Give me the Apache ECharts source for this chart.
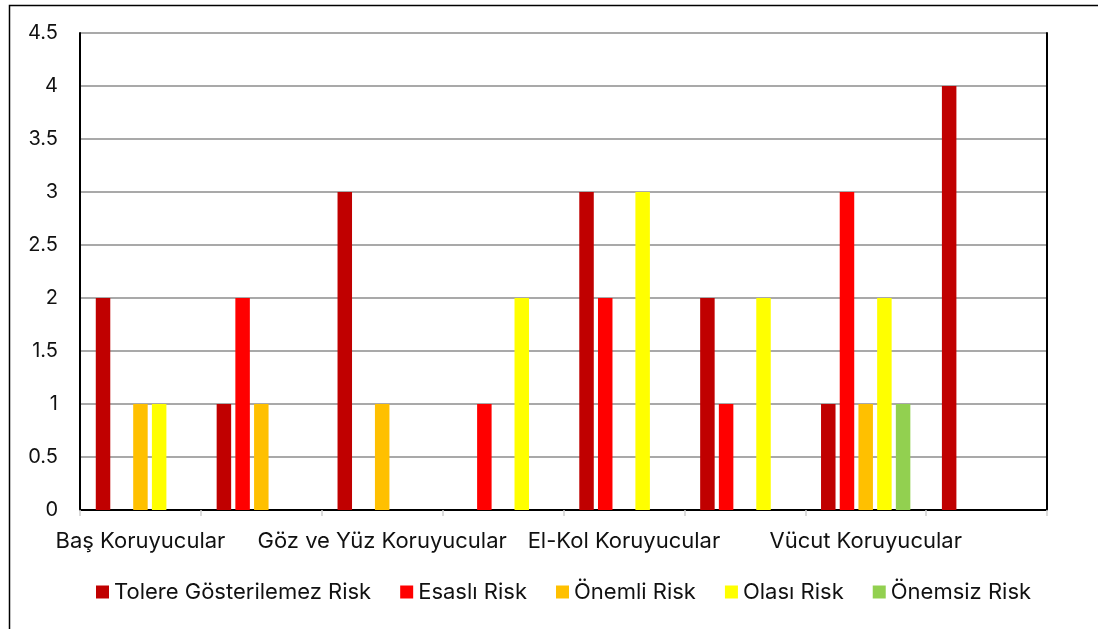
<!DOCTYPE html>
<html>
<head>
<meta charset="utf-8">
<script src="https://cdn.jsdelivr.net/npm/echarts@6/dist/echarts.min.js"></script>
<style>
  html, body { margin: 0; padding: 0; background: #fff; }
  #chart { width: 1098px; height: 629px; }
</style>
</head>
<body>
<div id="chart"></div>
<script>
// Protective equipment groups (every other label is shown on the axis)
const categories = [
  'Baş Koruyucular',
  'İşitme Koruyucular',
  'Göz ve Yüz Koruyucular',
  'Solunum Koruyucular',
  'El-Kol Koruyucular',
  'Ayak-Bacak Koruyucular',
  'Vücut Koruyucular',
  'Düşmeye Karşı Koruyucular'
];

// Risk counts per group
const tolereGosterilemez = [2, 1, 3, 0, 3, 2, 1, 4];
const esasli             = [0, 2, 0, 1, 2, 1, 3, 0];
const onemli             = [1, 1, 1, 0, 0, 0, 1, 0];
const olasi              = [1, 0, 0, 2, 3, 2, 2, 0];
const onemsiz            = [0, 0, 0, 0, 0, 0, 1, 0];

const yTicks = { min: 0, max: 4.5, interval: 0.5 };

const seriesDefs = [
  { name: 'Tolere Gösterilemez Risk', data: tolereGosterilemez, color: '#C00000' },
  { name: 'Esaslı Risk',              data: esasli,             color: '#FF0000' },
  { name: 'Önemli Risk',              data: onemli,             color: '#FFC000' },
  { name: 'Olası Risk',               data: olasi,              color: '#FFFF00' },
  { name: 'Önemsiz Risk',             data: onemsiz,            color: '#92D050' }
];

const FONT = 'Inter, "Open Sans", sans-serif';

const chart = echarts.init(document.getElementById('chart'), null, { renderer: 'canvas' });

chart.setOption({
  animation: false,
  backgroundColor: '#fff',
  textStyle: { fontFamily: FONT },
  graphic: [
    // outer frame
    { type: 'rect', left: 7, top: 3, shape: { width: 1200, height: 800 },
      style: { fill: 'none', stroke: '#000', lineWidth: 1.5 }, silent: true }
  ],
  grid: { left: 80, right: 51, top: 33, bottom: 119 },
  legend: {
    bottom: 21,
    left: 91,
    itemWidth: 13,
    itemHeight: 13,
    itemGap: 29,
    icon: 'rect',
    textStyle: { fontFamily: FONT, fontSize: 22, color: '#111' },
    data: seriesDefs.map(s => s.name)
  },
  xAxis: [
    {
      type: 'category',
      data: categories,
      axisLine: { lineStyle: { color: '#d0d0d0', width: 1.5 } },
      axisTick: { show: true, interval: 0, length: 6, lineStyle: { color: '#d0d0d0', width: 1.5 } },
      axisLabel: { interval: 1, margin: 20, fontFamily: FONT, fontSize: 22, color: '#111' },
      splitLine: { show: false }
    },
    {
      type: 'category',
      position: 'top',
      data: categories,
      axisLine: { show: true, lineStyle: { color: '#000', width: 2 } },
      axisTick: { show: false },
      axisLabel: { show: false }
    }
  ],
  yAxis: [
    {
      type: 'value',
      min: yTicks.min,
      max: yTicks.max,
      interval: yTicks.interval,
      axisLine: { show: true, lineStyle: { color: '#000', width: 2 } },
      axisTick: { show: false },
      axisLabel: { margin: 22, fontFamily: FONT, fontSize: 20, color: '#111' },
      splitLine: { show: true, lineStyle: { color: '#8c8c8c', width: 1.5 } }
    },
    {
      type: 'value',
      position: 'right',
      min: yTicks.min,
      max: yTicks.max,
      interval: yTicks.interval,
      axisLine: { show: true, lineStyle: { color: '#000', width: 2 } },
      axisTick: { show: false },
      axisLabel: { show: false },
      splitLine: { show: false }
    }
  ],
  series: seriesDefs.map(s => ({
    name: s.name,
    type: 'bar',
    data: s.data,
    barWidth: 14.5,
    barGap: '29%',
    itemStyle: { color: s.color },
    emphasis: { disabled: true }
  }))
});
</script>
</body>
</html>
